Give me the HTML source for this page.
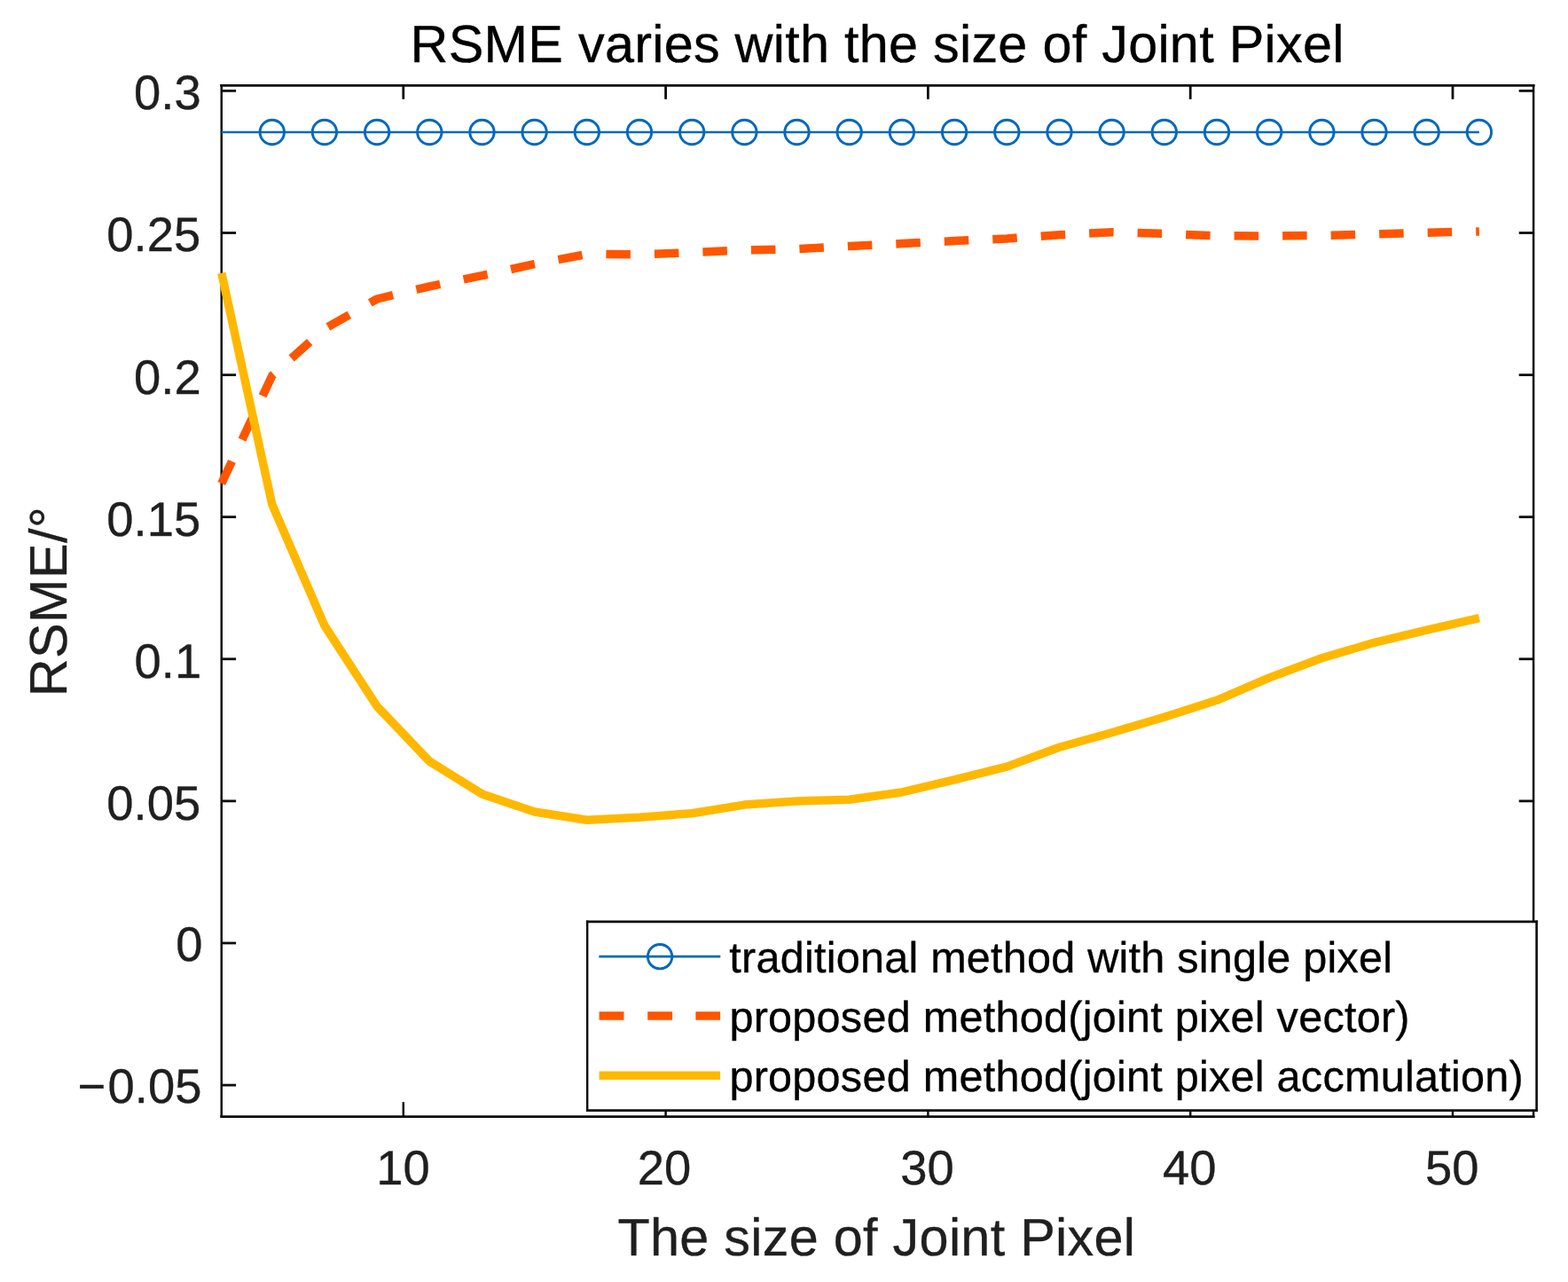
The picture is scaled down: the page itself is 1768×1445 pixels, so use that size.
<!DOCTYPE html>
<html lang="en">
<head>
<meta charset="utf-8">
<title>RSME varies with the size of Joint Pixel</title>
<style>
html,body{margin:0;padding:0;background:#fff;}
body{width:1768px;height:1445px;overflow:hidden;}
svg{display:block;}
text{font-family:"Liberation Sans", Arial, Helvetica, sans-serif;text-rendering:geometricPrecision;stroke-linejoin:round;}
.tick{font-size:54.4px;fill:#1f1f1f;stroke:#1f1f1f;stroke-width:0.35px;}
.lab{font-size:59.4px;fill:#1f1f1f;stroke:#1f1f1f;stroke-width:0.35px;}
.title{font-size:59.4px;fill:#000;stroke:#000;stroke-width:0.35px;}
.leg{font-size:48.6px;fill:#000;stroke:#000;stroke-width:0.35px;}
</style>
</head>
<body>
<svg width="1768" height="1445" viewBox="0 0 1768 1445">
<rect x="0" y="0" width="1768" height="1445" fill="#ffffff"/>
<g stroke="#0d0d0d" fill="none" stroke-linecap="square">
<line x1="249.75" y1="96.35" x2="1729.1" y2="96.35" stroke-width="2.9"/><line x1="249.75" y1="1258.6" x2="1729.1" y2="1258.6" stroke-width="2.9"/><line x1="249.75" y1="96.35" x2="249.75" y2="1258.6" stroke-width="2.5"/><line x1="1729.1" y1="96.35" x2="1729.1" y2="1258.6" stroke-width="2.5"/>
</g>
<g stroke="#0d0d0d" fill="none">
<line x1="454.8" y1="1258.6" x2="454.8" y2="1242.2" stroke-width="2.5"/><line x1="454.8" y1="96.35" x2="454.8" y2="111.8" stroke-width="2.8"/>
<line x1="750.6" y1="1258.6" x2="750.6" y2="1242.2" stroke-width="2.5"/><line x1="750.6" y1="96.35" x2="750.6" y2="111.8" stroke-width="2.8"/>
<line x1="1046.4" y1="1258.6" x2="1046.4" y2="1242.2" stroke-width="2.5"/><line x1="1046.4" y1="96.35" x2="1046.4" y2="111.8" stroke-width="2.8"/>
<line x1="1342.2" y1="1258.6" x2="1342.2" y2="1242.2" stroke-width="2.5"/><line x1="1342.2" y1="96.35" x2="1342.2" y2="111.8" stroke-width="2.8"/>
<line x1="1638.0" y1="1258.6" x2="1638.0" y2="1242.2" stroke-width="2.5"/><line x1="1638.0" y1="96.35" x2="1638.0" y2="111.8" stroke-width="2.8"/>
</g>
<g stroke="#0d0d0d" stroke-width="2.8" fill="none">
<line x1="249.75" y1="102.4" x2="266.1" y2="102.4"/><line x1="1729.1" y1="102.4" x2="1712.7" y2="102.4"/>
<line x1="249.75" y1="262.5" x2="266.1" y2="262.5"/><line x1="1729.1" y1="262.5" x2="1712.7" y2="262.5"/>
<line x1="249.75" y1="422.6" x2="266.1" y2="422.6"/><line x1="1729.1" y1="422.6" x2="1712.7" y2="422.6"/>
<line x1="249.75" y1="582.7" x2="266.1" y2="582.7"/><line x1="1729.1" y1="582.7" x2="1712.7" y2="582.7"/>
<line x1="249.75" y1="742.8" x2="266.1" y2="742.8"/><line x1="1729.1" y1="742.8" x2="1712.7" y2="742.8"/>
<line x1="249.75" y1="902.9" x2="266.1" y2="902.9"/><line x1="1729.1" y1="902.9" x2="1712.7" y2="902.9"/>
<line x1="249.75" y1="1063.0" x2="266.1" y2="1063.0"/><line x1="1729.1" y1="1063.0" x2="1712.7" y2="1063.0"/>
<line x1="249.75" y1="1223.1" x2="266.1" y2="1223.1"/><line x1="1729.1" y1="1223.1" x2="1712.7" y2="1223.1"/>
</g>
<g fill="none" stroke-linejoin="round" stroke-linecap="butt">
<line x1="249.75" y1="149.0" x2="1667.9" y2="149.0" stroke="#0068C0" stroke-width="2.55"/>
<circle cx="306.8" cy="149.0" r="13.7" stroke="#0068C0" stroke-width="2.9"/>
<circle cx="365.9" cy="149.0" r="13.7" stroke="#0068C0" stroke-width="2.9"/>
<circle cx="425.1" cy="149.0" r="13.7" stroke="#0068C0" stroke-width="2.9"/>
<circle cx="484.3" cy="149.0" r="13.7" stroke="#0068C0" stroke-width="2.9"/>
<circle cx="543.5" cy="149.0" r="13.7" stroke="#0068C0" stroke-width="2.9"/>
<circle cx="602.6" cy="149.0" r="13.7" stroke="#0068C0" stroke-width="2.9"/>
<circle cx="661.8" cy="149.0" r="13.7" stroke="#0068C0" stroke-width="2.9"/>
<circle cx="721.0" cy="149.0" r="13.7" stroke="#0068C0" stroke-width="2.9"/>
<circle cx="780.2" cy="149.0" r="13.7" stroke="#0068C0" stroke-width="2.9"/>
<circle cx="839.4" cy="149.0" r="13.7" stroke="#0068C0" stroke-width="2.9"/>
<circle cx="898.5" cy="149.0" r="13.7" stroke="#0068C0" stroke-width="2.9"/>
<circle cx="957.7" cy="149.0" r="13.7" stroke="#0068C0" stroke-width="2.9"/>
<circle cx="1016.9" cy="149.0" r="13.7" stroke="#0068C0" stroke-width="2.9"/>
<circle cx="1076.1" cy="149.0" r="13.7" stroke="#0068C0" stroke-width="2.9"/>
<circle cx="1135.3" cy="149.0" r="13.7" stroke="#0068C0" stroke-width="2.9"/>
<circle cx="1194.5" cy="149.0" r="13.7" stroke="#0068C0" stroke-width="2.9"/>
<circle cx="1253.6" cy="149.0" r="13.7" stroke="#0068C0" stroke-width="2.9"/>
<circle cx="1312.8" cy="149.0" r="13.7" stroke="#0068C0" stroke-width="2.9"/>
<circle cx="1372.0" cy="149.0" r="13.7" stroke="#0068C0" stroke-width="2.9"/>
<circle cx="1431.2" cy="149.0" r="13.7" stroke="#0068C0" stroke-width="2.9"/>
<circle cx="1490.4" cy="149.0" r="13.7" stroke="#0068C0" stroke-width="2.9"/>
<circle cx="1549.5" cy="149.0" r="13.7" stroke="#0068C0" stroke-width="2.9"/>
<circle cx="1608.7" cy="149.0" r="13.7" stroke="#0068C0" stroke-width="2.9"/>
<circle cx="1667.9" cy="149.0" r="13.7" stroke="#0068C0" stroke-width="2.9"/>
<polyline points="249.8,545.0 306.8,423.4 365.9,370.6 425.1,337.0 484.3,322.9 543.5,310.6 602.6,297.7 661.8,286.5 721.0,286.8 780.2,284.6 839.4,282.0 898.5,280.7 957.7,277.4 1016.9,274.6 1076.1,271.6 1135.3,268.9 1194.5,264.8 1253.6,261.8 1312.8,263.4 1372.0,265.8 1431.2,265.9 1490.4,265.5 1549.5,263.8 1608.7,262.2 1667.9,261.0" stroke="#FF5500" stroke-width="9.5" stroke-dasharray="27.5 27.03"/>
<polyline points="249.8,307.8 306.8,568.6 365.9,705.2 425.1,796.1 484.3,858.1 543.5,894.9 602.6,915.0 661.8,924.2 721.0,921.2 780.2,916.7 839.4,907.1 898.5,903.1 957.7,901.2 1016.9,893.0 1076.1,878.8 1135.3,864.1 1194.5,842.3 1253.6,825.7 1312.8,808.3 1372.0,789.3 1431.2,763.9 1490.4,741.8 1549.5,724.3 1608.7,710.1 1667.9,696.6" stroke="#FFB800" stroke-width="9.5"/>
</g>
<text class="title" x="462.6" y="70" style="letter-spacing:0.25px">RSME varies with the size of Joint Pixel</text>
<text class="tick" x="151.03" y="123.00">0.3</text>
<text class="tick" x="120.28" y="283.00">0.25</text>
<text class="tick" x="151.12" y="444.00">0.2</text>
<text class="tick" x="120.27" y="604.00">0.15</text>
<text class="tick" x="151.57" y="764.00">0.1</text>
<text class="tick" x="120.28" y="924.00">0.05</text>
<text class="tick" x="198.29" y="1083.00">0</text>
<text class="tick" x="87.62" y="1243.00">−<tspan dx="2.2">0.05</tspan></text>
<text class="tick" x="424.19" y="1335.00">10</text>
<text class="tick" x="718.85" y="1335.00">20</text>
<text class="tick" x="1015.31" y="1335.00">30</text>
<text class="tick" x="1310.95" y="1335.00">40</text>
<text class="tick" x="1606.92" y="1335.00">50</text>
<text class="lab" x="696.4" y="1415" style="letter-spacing:0.27px">The size of Joint Pixel</text>
<text class="lab" transform="translate(75.2 785.2) rotate(-90)" style="letter-spacing:0.4px">RSME/°</text>
<rect x="662.2" y="1038.8" width="1070.4" height="212.8" fill="#fff" stroke="none"/>
<g stroke="#0d0d0d" fill="none" stroke-linecap="square">
<line x1="662.2" y1="1038.8" x2="1732.6" y2="1038.8" stroke-width="2.7"/><line x1="662.2" y1="1251.6" x2="1732.6" y2="1251.6" stroke-width="2.7"/><line x1="662.2" y1="1038.8" x2="662.2" y2="1251.6" stroke-width="2.4"/><line x1="1732.6" y1="1038.8" x2="1732.6" y2="1251.6" stroke-width="2.6"/>
</g>
<g fill="none">
<line x1="675.4" y1="1078.2" x2="812.3" y2="1078.2" stroke="#0068C0" stroke-width="2.8"/><circle cx="744.1" cy="1078.2" r="13.7" stroke="#0068C0" stroke-width="2.9"/>
<path d="M675.6 1145H703.5M730.2 1145H758.1M784.4 1145H812.1" stroke="#FF5500" stroke-width="9.5"/>
<line x1="675.6" y1="1212.2" x2="812.1" y2="1212.2" stroke="#FFB800" stroke-width="9.5"/>
</g>
<text class="leg" x="822.3" y="1096" style="letter-spacing:0.22px">traditional method with single pixel</text>
<text class="leg" x="822.4" y="1163" style="letter-spacing:0.24px">proposed method(joint pixel vector)</text>
<text class="leg" x="822.4" y="1230" style="letter-spacing:0.24px">proposed method(joint pixel accmulation)</text>
</svg>
</body>
</html>
